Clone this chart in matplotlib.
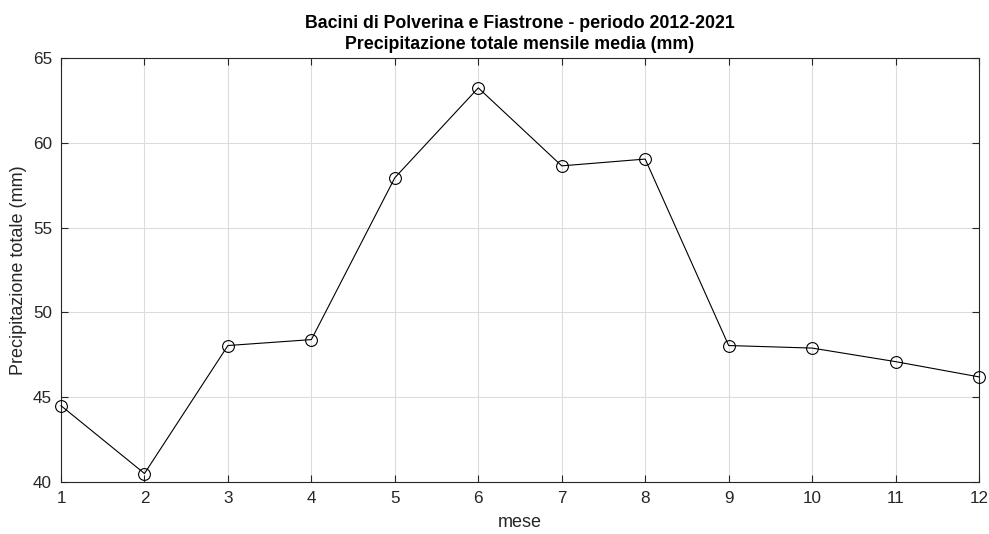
import matplotlib.pyplot as plt
import numpy as np

# monthly mean total precipitation (mm), 2012-2021
mesi = [1, 2, 3, 4, 5, 6, 7, 8, 9, 10, 11, 12]
precip = [44.5, 40.5, 48.05, 48.4, 57.95, 63.25, 58.65, 59.05, 48.05, 47.9, 47.1, 46.2]

plt.rcParams['font.family'] = ['Liberation Sans', 'DejaVu Sans']

fig = plt.figure(figsize=(9.89, 5.34), dpi=100)
ax = fig.add_axes([0.0617, 0.0974, 0.9282, 0.7936])

ax.plot(mesi, precip, color='black', linewidth=0.8, marker='o',
        markersize=8.5, markerfacecolor='none', markeredgewidth=0.8,
        clip_on=False, zorder=3)

ax.set_xlim(1, 12)
ax.set_ylim(40, 65)
ax.set_xticks(np.arange(1, 13))
ax.set_yticks(np.arange(40, 66, 5))

ax.grid(True, color='#dcdcdc', linewidth=0.8)
ax.set_axisbelow(True)

axis_col = '#262626'
for s in ax.spines.values():
    s.set_color(axis_col)
    s.set_linewidth(0.8)
ax.tick_params(direction='in', length=5, width=0.8, colors=axis_col,
               labelsize=12.3, top=True, right=True, pad=6.5)

ax.set_xlabel('mese', fontsize=13, color=axis_col, labelpad=6)
ax.set_ylabel('Precipitazione totale (mm)', fontsize=13, color=axis_col, labelpad=4)
ax.set_title('Bacini di Polverina e Fiastrone - periodo 2012-2021\n'
             'Precipitazione totale mensile media (mm)',
             fontsize=12.8, fontweight='bold', color='black', pad=6.5, linespacing=1.3)

fig.savefig('out.png', dpi=100)
